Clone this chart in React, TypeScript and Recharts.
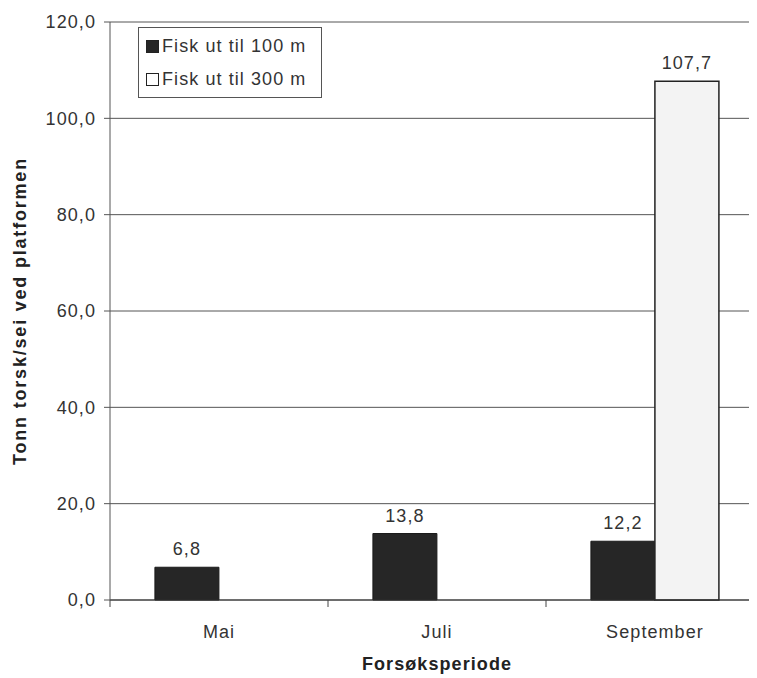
import { BarChart, Bar, XAxis, YAxis, CartesianGrid, Legend, LabelList, Label } from 'recharts';

const perioder = ['Mai', 'Juli', 'September'];
const fisk100 = [6.8, 13.8, 12.2];
const fisk300: (number | null)[] = [null, null, 107.7];
const yTicks = [0, 20, 40, 60, 80, 100, 120];

const seriesNames = { f100: 'Fisk ut til 100 m', f300: 'Fisk ut til 300 m' };

const data = perioder.map((p, i) => ({ periode: p, f100: fisk100[i], f300: fisk300[i] }));

const FONT = '"Liberation Sans", Arial, sans-serif';
const SPACING = '0.06em';
const comma = (v: number) => v.toFixed(1).replace('.', ',');

const textStyle = { fontSize: 18, fill: '#333', fontFamily: FONT, letterSpacing: SPACING };

function PeriodTick(props: any) {
  const { x, y, payload } = props;
  const half = payload?.offset ?? 0;
  return (
    <g>
      <line x1={x - half} y1={y} x2={x - half} y2={y + 7} stroke="#444" strokeWidth={1} />
      <text x={x} y={y + 32} dy="0.355em" textAnchor="middle" style={textStyle}>
        {payload.value}
      </text>
    </g>
  );
}

function LegendBox() {
  const row = (fill: string, text: string) => (
    <div style={{ display: 'flex', alignItems: 'center', height: 33 }}>
      <span
        style={{
          display: 'inline-block',
          width: 11,
          height: 11,
          background: fill,
          border: '1px solid #222',
          marginRight: 3,
        }}
      />
      <span>{text}</span>
    </div>
  );
  return (
    <div
      style={{
        border: '1px solid #555',
        background: '#fff',
        width: 184,
        height: 71,
        padding: '2px 0 2px 7px',
        boxSizing: 'border-box',
        fontFamily: FONT,
        fontSize: 18,
        letterSpacing: SPACING,
        color: '#333',
        whiteSpace: 'nowrap',
      }}
    >
      {row('#262626', seriesNames.f100)}
      {row('#fff', seriesNames.f300)}
    </div>
  );
}

export default function App() {
  return (
    <div style={{ width: 749, height: 670, overflow: 'hidden', fontFamily: FONT }}>
      <BarChart
        width={770}
        height={670}
        data={data}
        margin={{ top: 14, right: 14, bottom: 0, left: 0 }}
        barCategoryGap="20.6%"
        barGap={0}
      >
        <CartesianGrid vertical={false} stroke="#555" strokeWidth={1} />
        <XAxis
          dataKey="periode"
          height={78}
          tickSize={0}
          tickMargin={0}
          tick={<PeriodTick />}
          axisLine={{ stroke: '#333', strokeWidth: 1.2 }}
        >
          <Label
            value="Forsøksperiode"
            position="insideBottom"
            offset={8}
            style={{ ...textStyle, fontWeight: 'bold', fill: '#222' }}
          />
        </XAxis>
        <YAxis
          width={102}
          domain={[0, 120]}
          ticks={yTicks}
          tickFormatter={comma}
          tickSize={6}
          tickMargin={8}
          tick={textStyle}
          axisLine={{ stroke: '#555' }}
          tickLine={{ stroke: '#555' }}
        >
          <Label
            value="Tonn torsk/sei ved platformen"
            angle={-90}
            position="center"
            dx={-39}
            dy={0}
            style={{ ...textStyle, letterSpacing: '0.1em', fontWeight: 'bold', fill: '#222', textAnchor: 'middle' }}
          />
        </YAxis>
        <Legend
          layout="vertical"
          align="center"
          verticalAlign="middle"
          content={<LegendBox />}
          wrapperStyle={{ left: 130, top: 19, width: 'auto' }}
        />
        <Bar dataKey="f100" name={seriesNames.f100} fill="#262626" stroke="#1a1a1a" isAnimationActive={false}>
          <LabelList
            dataKey="f100"
            position="top"
            offset={12}
            formatter={(v: any) => (v == null ? '' : comma(v))}
            style={textStyle}
          />
        </Bar>
        <Bar dataKey="f300" name={seriesNames.f300} fill="#f3f3f3" stroke="#222" strokeWidth={1.5} isAnimationActive={false}>
          <LabelList
            dataKey="f300"
            position="top"
            offset={12}
            formatter={(v: any) => (v == null ? '' : comma(v))}
            style={textStyle}
          />
        </Bar>
      </BarChart>
    </div>
  );
}
